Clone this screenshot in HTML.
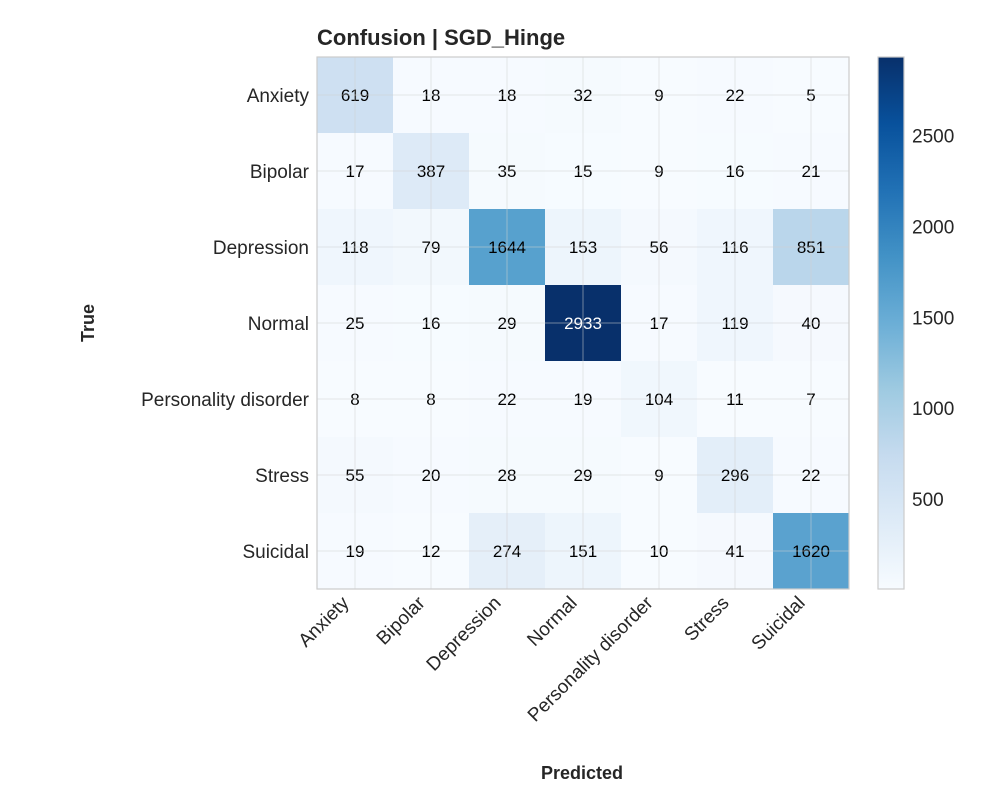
<!DOCTYPE html>
<html><head><meta charset="utf-8"><style>
body{margin:0;background:#fff}
svg{display:block;font-family:"Liberation Sans","DejaVu Sans",sans-serif}
</style></head><body>
<svg id="chart" width="990" height="810" viewBox="0 0 990 810">
<rect width="990" height="810" fill="#fff"/>
<text x="317" y="45" font-size="22" font-weight="bold" fill="#262626">Confusion | SGD_Hinge</text>
<g id="cells"></g>
<g id="grid"></g>
<g id="labels"></g>
<rect x="317" y="57" width="532" height="532" fill="none" stroke="#cccccc" stroke-width="1.2"/>
<text x="582" y="779" font-size="18" font-weight="bold" fill="#262626" text-anchor="middle">Predicted</text>
<text transform="translate(94,323) rotate(-90)" font-size="18" font-weight="bold" fill="#262626" text-anchor="middle">True</text>
<defs><linearGradient id="cbg" x1="0" y1="1" x2="0" y2="0">
<stop offset="0" stop-color="#f7fbff"/><stop offset="0.125" stop-color="#deebf7"/><stop offset="0.25" stop-color="#c6dbef"/><stop offset="0.375" stop-color="#9ecae1"/><stop offset="0.5" stop-color="#6baed6"/><stop offset="0.625" stop-color="#4292c6"/><stop offset="0.75" stop-color="#2171b5"/><stop offset="0.875" stop-color="#08519c"/><stop offset="1" stop-color="#08306b"/>
</linearGradient></defs>
<rect x="878" y="57" width="26" height="532" fill="url(#cbg)" stroke="#cccccc" stroke-width="1.2"/>
<g id="cbticks"></g>
</svg>
<script>
const classes=["Anxiety","Bipolar","Depression","Normal","Personality disorder","Stress","Suicidal"];
const row0=[619,18,18,32,9,22,5];
const row1=[17,387,35,15,9,16,21];
const row2=[118,79,1644,153,56,116,851];
const row3=[25,16,29,2933,17,119,40];
const row4=[8,8,22,19,104,11,7];
const row5=[55,20,28,29,9,296,22];
const row6=[19,12,274,151,10,41,1620];
const colorbarTicks=[500,1000,1500,2000,2500];
const matrix=[row0,row1,row2,row3,row4,row5,row6];
const NS="http://www.w3.org/2000/svg";
const X0=317,Y0=57,SIZE=532,n=classes.length,cw=SIZE/n;
const flat=matrix.flat();const vmin=Math.min(...flat),vmax=Math.max(...flat);
const stops=["#f7fbff","#deebf7","#c6dbef","#9ecae1","#6baed6","#4292c6","#2171b5","#08519c","#08306b"];
function hex(h){return [1,3,5].map(i=>parseInt(h.substr(i,2),16));}
function cmap(v){let t=(v-vmin)/(vmax-vmin);t=Math.max(0,Math.min(1,t));const p=t*8;const i=Math.min(7,Math.floor(p));const f=p-i;const a=hex(stops[i]),b=hex(stops[i+1]);return "rgb("+a.map((c,k)=>Math.round(c+(b[k]-c)*f)).join(",")+")";}
function xs(j){return X0+j*cw;} function ys(i){return Y0+i*cw;}
function cbY(v){return Y0+SIZE-(v-vmin)/(vmax-vmin)*SIZE;}
function mk(tag,attrs,parent,txt){const e=document.createElementNS(NS,tag);for(const k in attrs)e.setAttribute(k,attrs[k]);if(txt!==undefined)e.textContent=txt;parent.appendChild(e);return e;}
const cells=document.getElementById('cells'),grid=document.getElementById('grid'),labels=document.getElementById('labels'),cbt=document.getElementById('cbticks');
matrix.forEach((row,i)=>row.forEach((v,j)=>{
 const r=mk('rect',{x:xs(j),y:ys(i),width:cw+0.5,height:cw+0.5,fill:cmap(v)},cells);
 
 
 const t=mk('text',{x:xs(j)+cw/2,y:ys(i)+cw/2+6,'font-size':17,'text-anchor':'middle',fill:v>(vmin+vmax)*0.7?'#fff':'#000'},cells,String(v));
 
 
}));
for(let k=0;k<n;k++){
 const c=xs(k)+cw/2,cy=ys(k)+cw/2;
 mk('line',{x1:c,x2:c,y1:Y0,y2:Y0+SIZE,stroke:'#d0d0d0','stroke-opacity':0.35,'stroke-width':1.5},grid);
 mk('line',{x1:X0,x2:X0+SIZE,y1:cy,y2:cy,stroke:'#d0d0d0','stroke-opacity':0.35,'stroke-width':1.5},grid);
 const yl=mk('text',{x:309,y:cy+7,'font-size':19,'text-anchor':'end',fill:'#262626'},labels,classes[k]);
 
 
 const xl=mk('text',{transform:'translate('+(c-5)+',604) rotate(-45)','font-size':19,'text-anchor':'end',fill:'#262626'},labels,classes[k]);
 
 
}
colorbarTicks.forEach(v=>{
 const t=mk('text',{x:912,y:cbY(v)+7,'font-size':19,fill:'#262626'},cbt,String(v));
 
 
});
</script>
</body></html>
